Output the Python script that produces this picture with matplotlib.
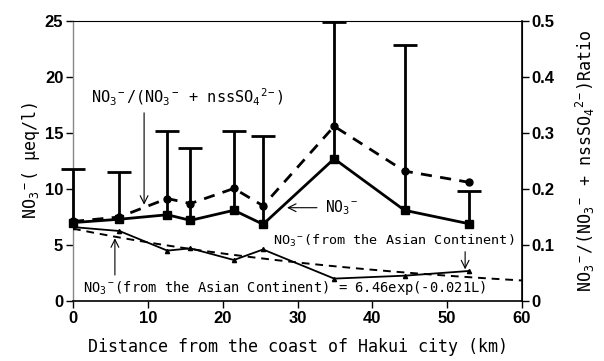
import numpy as np
import matplotlib
matplotlib.use("Agg")
import matplotlib.pyplot as plt

plt.rcParams['mathtext.fontset'] = 'custom'
plt.rcParams['mathtext.rm'] = 'DejaVu Sans Mono'
plt.rcParams['mathtext.it'] = 'DejaVu Sans Mono'
plt.rcParams['mathtext.bf'] = 'DejaVu Sans Mono'

# ---- data ----
distance = [0, 6.2, 12.6, 15.7, 21.5, 25.4, 34.9, 44.3, 52.9]
no3 = [7.0, 7.3, 7.7, 7.2, 8.1, 6.85, 12.7, 8.1, 6.9]
no3_upper = [11.8, 11.5, 15.2, 13.7, 15.2, 14.7, 24.9, 22.9, 9.85]
ratio = [0.142, 0.150, 0.183, 0.174, 0.201, 0.170, 0.312, 0.232, 0.212]
no3_asian = [6.6, 6.25, 4.5, 4.7, 3.66, 4.6, 2.0, 2.26, 2.68]
fit_a = 6.46
fit_b = 0.021
x_ticks = [0, 10, 20, 30, 40, 50, 60]
left_ticks = [0, 5, 10, 15, 20, 25]
right_ticks = [0, 0.1, 0.2, 0.3, 0.4, 0.5]

mono = 'DejaVu Sans Mono'
tickfont = dict(family='Liberation Sans', weight='bold', size=12)

NO3 = 'NO$_3{}^-$'

fig = plt.figure(figsize=(6.04, 3.61), dpi=100)
ax = fig.add_axes([73/604, 1-301/361, (522-73)/604, (301-21)/361])
ax2 = ax.twinx()

# error bars (upper only)
lo = np.zeros(len(no3))
up = np.array(no3_upper) - np.array(no3)
eb = ax.errorbar(distance, no3, yerr=[lo, up], fmt='none', ecolor='black',
                 elinewidth=2, capsize=8.5, capthick=2, zorder=3)
caps = eb[1]
if len(caps) == 2:
    caps[0].set_visible(False)
for c in caps:
    c.set_clip_on(False)
for coll in eb[2]:
    coll.set_clip_on(False)

ax.plot(distance, no3, color='black', lw=2, marker='s', ms=5.5, zorder=4, clip_on=False)
ax.plot(distance, no3_asian, color='black', lw=1.3, marker='^', ms=3, zorder=4)
xf = np.linspace(0, 60, 200)
ax.plot(xf, fit_a*np.exp(-fit_b*xf), color='black', lw=1.4, ls=(0, (4, 3)), zorder=3)

ax2.plot(distance, ratio, color='black', lw=2, ls=(0, (4, 3)), marker='o', ms=5, zorder=4, clip_on=False)

ax.set_xlim(0, 60)
ax.set_ylim(0, 25)
ax2.set_ylim(0, 0.5)
ax.set_xticks(x_ticks)
ax.set_yticks(left_ticks)
ax2.set_yticks(right_ticks)
ax.set_xticklabels([str(t) for t in x_ticks], fontdict=tickfont)
ax.set_yticklabels([str(t) for t in left_ticks], fontdict=tickfont)
ax2.set_yticklabels(['0', '0.1', '0.2', '0.3', '0.4', '0.5'], fontdict=tickfont)

for a in (ax, ax2):
    a.tick_params(direction='out', length=5, width=1, pad=2)
    a.set_facecolor('none')
ax.spines['left'].set_linewidth(1.0)
ax.spines['left'].set_color('#888888')
ax.spines['top'].set_linewidth(0.8)
ax.spines['bottom'].set_linewidth(1.2)
ax2.spines['right'].set_linewidth(1.2)
ax2.spines['left'].set_visible(False)
ax2.spines['top'].set_visible(False)
ax2.spines['bottom'].set_visible(False)

ax.set_xlabel('Distance from the coast of Hakui city (km)', family=mono, size=12, labelpad=9)
ax.set_ylabel(NO3 + '( μeq/l)', family=mono, size=12, labelpad=2)
ax2.set_ylabel(NO3 + '/(' + NO3 + ' + nssSO$_4{}^{2-}$)Ratio', family=mono, size=12, labelpad=14)

ap = dict(arrowstyle='->', lw=0.8, color='black', mutation_scale=14, shrinkA=0, shrinkB=0)
ax.text(2.4, 18.2, NO3 + '/(' + NO3 + ' + nssSO$_4{}^{2-}$)', family=mono, size=11, va='center', ha='left')
ax.annotate('', xy=(9.5, 8.6), xytext=(9.5, 16.8), arrowprops=ap)
ax.text(33.7, 8.3, NO3, family=mono, size=10.5, va='center', ha='left')
ax.annotate('', xy=(28.6, 8.33), xytext=(32.6, 8.33), arrowprops=ap)
ax.text(26.7, 5.36, NO3 + '(from the Asian Continent)', family=mono, size=9.7, va='center', ha='left')
ax.annotate('', xy=(52.4, 2.83), xytext=(52.4, 4.4), arrowprops=ap)
ax.text(1.4, 1.13, NO3 + '(from the Asian Continent) = 6.46exp(-0.021L)', family=mono, size=9.9, va='center', ha='left')
ax.annotate('', xy=(5.6, 5.6), xytext=(5.6, 2.32), arrowprops=ap)

fig.savefig('out.png', dpi=100)
